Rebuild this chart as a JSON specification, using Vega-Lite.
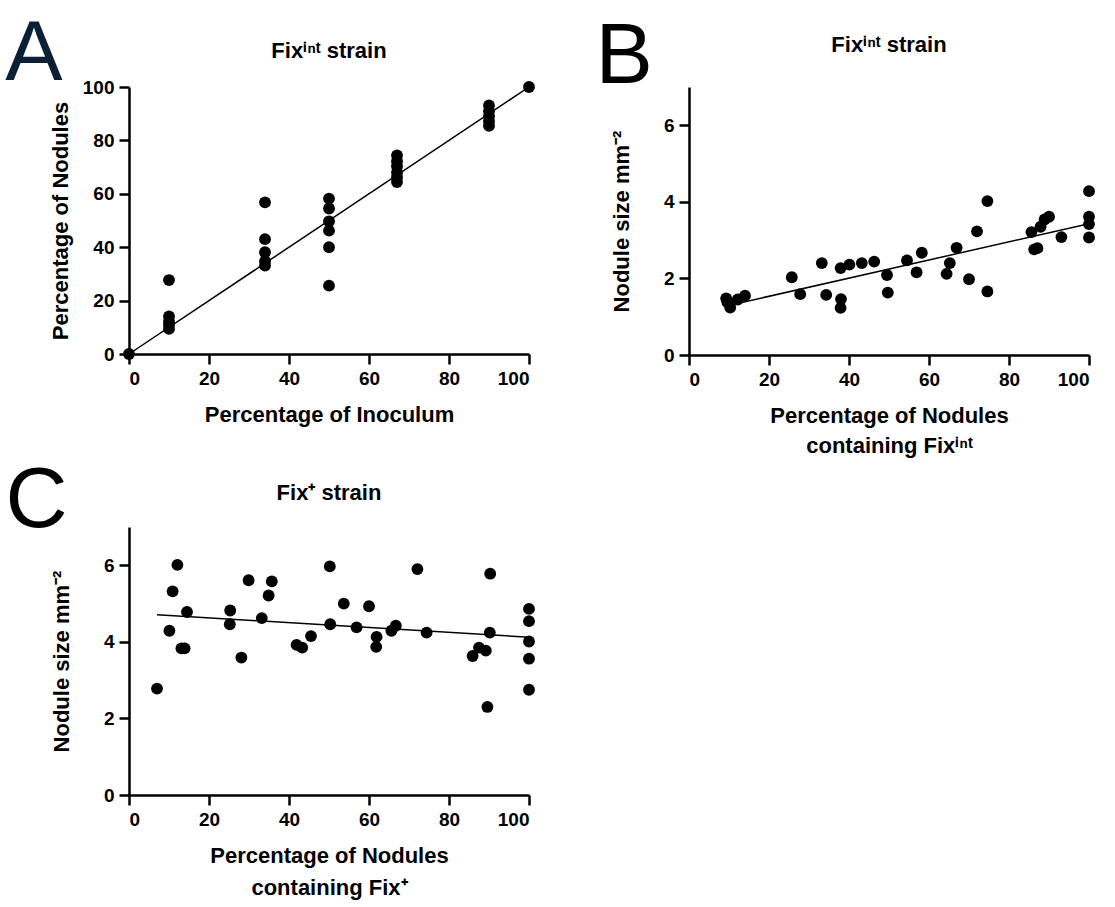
{
  "$schema": "https://vega.github.io/schema/vega-lite/v6.json",
  "background": "white",
  "padding": {"left": 5, "right": 5, "top": 11, "bottom": 5},
  "datasets": {
    "a_points": [
      {"inoculum": 0, "nodules": 0},
      {"inoculum": 10, "nodules": 27.7}, {"inoculum": 10, "nodules": 14.1}, {"inoculum": 10, "nodules": 12.2}, {"inoculum": 10, "nodules": 10.9}, {"inoculum": 10, "nodules": 9.4},
      {"inoculum": 34, "nodules": 56.8}, {"inoculum": 34, "nodules": 43.0}, {"inoculum": 34, "nodules": 38.1}, {"inoculum": 34, "nodules": 34.7}, {"inoculum": 34, "nodules": 33.1},
      {"inoculum": 50, "nodules": 58.2}, {"inoculum": 50, "nodules": 54.5}, {"inoculum": 50, "nodules": 49.7}, {"inoculum": 50, "nodules": 46.2}, {"inoculum": 50, "nodules": 40.0}, {"inoculum": 50, "nodules": 25.6},
      {"inoculum": 67, "nodules": 74.4}, {"inoculum": 67, "nodules": 72.2}, {"inoculum": 67, "nodules": 70.3}, {"inoculum": 67, "nodules": 68.0}, {"inoculum": 67, "nodules": 66.2}, {"inoculum": 67, "nodules": 64.4},
      {"inoculum": 90, "nodules": 93.1}, {"inoculum": 90, "nodules": 90.9}, {"inoculum": 90, "nodules": 89.0}, {"inoculum": 90, "nodules": 87.2}, {"inoculum": 90, "nodules": 85.5},
      {"inoculum": 100, "nodules": 100}
    ],
    "a_fit": [{"inoculum": 0, "nodules": 0}, {"inoculum": 100, "nodules": 100}],
    "b_points": [
      {"pct": 9.3, "size": 1.48}, {"pct": 9.6, "size": 1.38}, {"pct": 10.3, "size": 1.24}, {"pct": 12.2, "size": 1.45}, {"pct": 14.0, "size": 1.55},
      {"pct": 25.7, "size": 2.03}, {"pct": 27.8, "size": 1.59}, {"pct": 33.2, "size": 2.40}, {"pct": 34.3, "size": 1.57},
      {"pct": 37.9, "size": 2.27}, {"pct": 38.0, "size": 1.46}, {"pct": 37.9, "size": 1.23}, {"pct": 40.1, "size": 2.36},
      {"pct": 43.2, "size": 2.40}, {"pct": 46.3, "size": 2.44}, {"pct": 49.5, "size": 2.09}, {"pct": 49.7, "size": 1.63},
      {"pct": 54.5, "size": 2.47}, {"pct": 56.9, "size": 2.16}, {"pct": 58.2, "size": 2.67}, {"pct": 64.4, "size": 2.12},
      {"pct": 65.2, "size": 2.40}, {"pct": 66.9, "size": 2.80}, {"pct": 70.0, "size": 1.98}, {"pct": 72.0, "size": 3.23},
      {"pct": 74.6, "size": 4.02}, {"pct": 74.6, "size": 1.66}, {"pct": 85.6, "size": 3.21}, {"pct": 86.3, "size": 2.76},
      {"pct": 87.1, "size": 2.79}, {"pct": 87.9, "size": 3.35}, {"pct": 88.9, "size": 3.54}, {"pct": 90.0, "size": 3.61},
      {"pct": 93.1, "size": 3.08}, {"pct": 100, "size": 4.28}, {"pct": 100, "size": 3.61}, {"pct": 100, "size": 3.42}, {"pct": 100, "size": 3.07}
    ],
    "b_fit": [{"pct": 9.3, "size": 1.28}, {"pct": 100, "size": 3.43}],
    "c_points": [
      {"pct": 7.0, "size": 2.78}, {"pct": 10.1, "size": 4.29}, {"pct": 10.9, "size": 5.32}, {"pct": 12.1, "size": 6.01},
      {"pct": 13.1, "size": 3.83}, {"pct": 13.9, "size": 3.83}, {"pct": 14.5, "size": 4.78}, {"pct": 25.3, "size": 4.82},
      {"pct": 25.2, "size": 4.46}, {"pct": 28.1, "size": 3.59}, {"pct": 29.9, "size": 5.61}, {"pct": 33.2, "size": 4.62},
      {"pct": 34.9, "size": 5.21}, {"pct": 35.7, "size": 5.58}, {"pct": 41.9, "size": 3.92}, {"pct": 43.3, "size": 3.85},
      {"pct": 45.5, "size": 4.15}, {"pct": 50.2, "size": 5.97}, {"pct": 50.3, "size": 4.46}, {"pct": 53.7, "size": 5.00},
      {"pct": 56.9, "size": 4.38}, {"pct": 60.0, "size": 4.93}, {"pct": 61.9, "size": 4.13}, {"pct": 61.8, "size": 3.87},
      {"pct": 65.6, "size": 4.29}, {"pct": 66.7, "size": 4.42}, {"pct": 72.1, "size": 5.90}, {"pct": 74.4, "size": 4.24},
      {"pct": 85.9, "size": 3.63}, {"pct": 87.5, "size": 3.85}, {"pct": 89.2, "size": 3.77}, {"pct": 89.6, "size": 2.30},
      {"pct": 90.3, "size": 5.78}, {"pct": 90.2, "size": 4.24}, {"pct": 100, "size": 4.86}, {"pct": 100, "size": 4.54},
      {"pct": 100, "size": 4.01}, {"pct": 100, "size": 3.56}, {"pct": 100, "size": 2.75}
    ],
    "c_fit": [{"pct": 7.0, "size": 4.71}, {"pct": 100, "size": 4.12}]
  },
  "vconcat": [
    {
      "hconcat": [
        {
          "title": {"text": "A", "anchor": "start", "frame": "bounds", "font": "Liberation Sans", "fontSize": 86, "fontWeight": "normal", "color": "#0b1f35", "dx": -44, "dy": 58, "offset": 0},
          "vconcat": [
            {
              "title": {"text": "Fixⁱⁿᵗ strain", "offset": 15},
              "width": 400, "height": 267,
              "layer": [
                {
                  "data": {"name": "a_points"},
                  "mark": {"type": "point", "filled": true, "size": 140, "color": "black", "opacity": 1},
                  "encoding": {
                    "x": {"field": "inoculum", "type": "quantitative", "scale": {"domain": [0, 100], "nice": false},
                      "axis": {"values": [0, 20, 40, 60, 80, 100], "title": "Percentage of Inoculum", "titlePadding": 16}},
                    "y": {"field": "nodules", "type": "quantitative", "scale": {"domain": [0, 100], "nice": false},
                      "axis": {"values": [0, 20, 40, 60, 80, 100], "title": "Percentage of Nodules", "titlePadding": 10}}
                  }
                },
                {
                  "data": {"name": "a_fit"},
                  "mark": {"type": "line", "color": "black", "strokeWidth": 1.5},
                  "encoding": {
                    "x": {"field": "inoculum", "type": "quantitative"},
                    "y": {"field": "nodules", "type": "quantitative"}
                  }
                }
              ]
            }
          ]
        },
        {
          "title": {"text": "B", "anchor": "start", "frame": "bounds", "font": "Liberation Sans", "fontSize": 86, "fontWeight": "normal", "color": "black", "dx": -15, "dy": 67, "offset": 0},
          "vconcat": [
            {
              "title": {"text": "Fixⁱⁿᵗ strain", "offset": 30},
              "width": 400, "height": 268,
              "layer": [
                {
                  "data": {"name": "b_points"},
                  "mark": {"type": "point", "filled": true, "size": 140, "color": "black", "opacity": 1},
                  "encoding": {
                    "x": {"field": "pct", "type": "quantitative", "scale": {"domain": [0, 100], "nice": false},
                      "axis": {"values": [0, 20, 40, 60, 80, 100], "title": ["Percentage of Nodules", "containing Fixⁱⁿᵗ"], "titlePadding": 16, "titleLineHeight": 30}},
                    "y": {"field": "size", "type": "quantitative", "scale": {"domain": [0, 7], "nice": false},
                      "axis": {"values": [0, 2, 4, 6], "title": "Nodule size mm⁻²", "titlePadding": 30}}
                  }
                },
                {
                  "data": {"name": "b_fit"},
                  "mark": {"type": "line", "color": "black", "strokeWidth": 1.5},
                  "encoding": {
                    "x": {"field": "pct", "type": "quantitative"},
                    "y": {"field": "size", "type": "quantitative"}
                  }
                }
              ]
            }
          ]
        }
      ],
      "spacing": 60
    },
    {
      "hconcat": [
        {
          "title": {"text": "C", "anchor": "start", "frame": "bounds", "font": "Liberation Sans", "fontSize": 86, "fontWeight": "normal", "color": "black", "dx": -45, "dy": 63, "offset": 0},
          "vconcat": [
            {
              "title": {"text": "Fix⁺ strain", "offset": 22},
              "width": 400, "height": 268,
              "layer": [
                {
                  "data": {"name": "c_points"},
                  "mark": {"type": "point", "filled": true, "size": 140, "color": "black", "opacity": 1},
                  "encoding": {
                    "x": {"field": "pct", "type": "quantitative", "scale": {"domain": [0, 100], "nice": false},
                      "axis": {"values": [0, 20, 40, 60, 80, 100], "title": ["Percentage of Nodules", "containing Fix⁺"], "titlePadding": 16, "titleLineHeight": 32}},
                    "y": {"field": "size", "type": "quantitative", "scale": {"domain": [0, 7], "nice": false},
                      "axis": {"values": [0, 2, 4, 6], "title": "Nodule size mm⁻²", "titlePadding": 30}}
                  }
                },
                {
                  "data": {"name": "c_fit"},
                  "mark": {"type": "line", "color": "black", "strokeWidth": 1.5},
                  "encoding": {
                    "x": {"field": "pct", "type": "quantitative"},
                    "y": {"field": "size", "type": "quantitative"}
                  }
                }
              ]
            }
          ]
        }
      ]
    }
  ],
  "spacing": 2,
  "config": {
    "view": {"stroke": null},
    "font": "Liberation Sans",
    "axis": {
      "grid": false,
      "domainColor": "black", "domainWidth": 2.5,
      "tickColor": "black", "tickWidth": 2.5, "tickSize": 10,
      "labelFont": "Liberation Sans", "labelFontSize": 19, "labelFontWeight": "bold", "labelColor": "black", "labelPadding": 5,
      "titleFont": "Liberation Sans", "titleFontSize": 22, "titleFontWeight": "bold", "titleColor": "black"
    },
    "title": {"font": "Liberation Sans", "fontSize": 22, "fontWeight": "bold", "color": "black"}
  }
}
